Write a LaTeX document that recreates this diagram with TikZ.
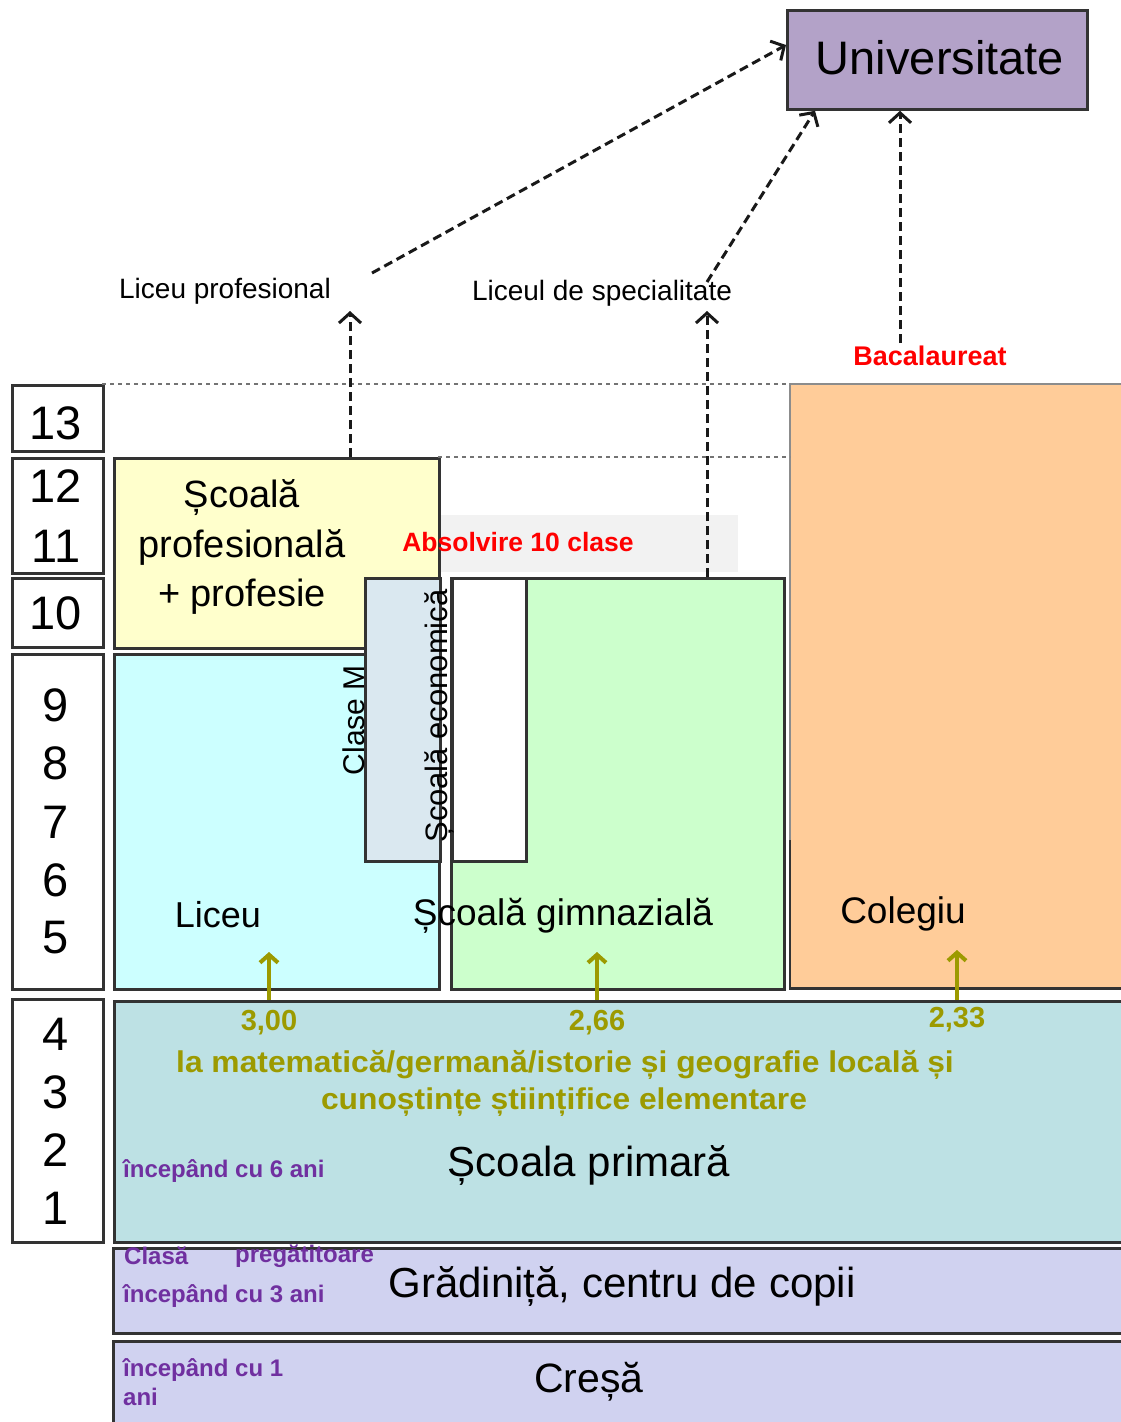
\documentclass[tikz,border=0pt]{standalone}
\usepackage{fontspec}
\usepackage{graphicx}
\setmainfont{Liberation Sans}
\usetikzlibrary{arrows.meta,calc}
\definecolor{univfill}{HTML}{B3A2C8}
\definecolor{yellowfill}{HTML}{FFFFCC}
\definecolor{cyanfill}{HTML}{CCFFFF}
\definecolor{greenfill}{HTML}{CCFFCC}
\definecolor{orangefill}{HTML}{FFCC99}
\definecolor{clasemfill}{HTML}{DAE8F0}
\definecolor{primfill}{HTML}{BDE1E4}
\definecolor{lavfill}{HTML}{D0D2F0}
\definecolor{bandfill}{HTML}{F2F2F2}
\definecolor{olivec}{HTML}{9C9A00}
\definecolor{purplec}{HTML}{7030A0}
\definecolor{redc}{HTML}{FF0000}
\definecolor{edgec}{HTML}{333333}
\newcommand{\fs}[1]{\fontsize{#1}{1.25\dimexpr#1pt\relax}\selectfont}
\begin{document}
\begin{tikzpicture}[x=1pt,y=-1pt,
  box/.style={draw=edgec, line width=2.8pt, inner sep=0pt, anchor=north west},
  numtxt/.style={font=\fs{47}, inner sep=0pt},
  bigtxt/.style={inner sep=0pt},
  guide/.style={draw=black!55, line width=1.5pt, dash pattern=on 4pt off 4pt},
  darr/.style={draw=black!90, line width=3pt, dash pattern=on 9pt off 5pt,
    -{Straight Barb[length=10pt,width=22pt]}},
  oarr/.style={draw=olivec, line width=4pt, -{Straight Barb[length=8pt,width=18pt]}},
  redlbl/.style={text=redc, font=\fs{27}\bfseries, inner sep=0pt},
  olivelbl/.style={text=olivec, font=\fs{29}\bfseries, inner sep=0pt},
  purplbl/.style={text=purplec, font=\fs{24}\bfseries, inner sep=0pt, anchor=west}
]
\useasboundingbox (0,0) rectangle (1121,1422);

% guide dashed lines
\coordinate (g13) at (102,384);
\coordinate (g12) at (438,457);

% grey band
\node[anchor=north west, fill=bandfill, minimum width=300pt, minimum height=57pt, inner sep=0pt] (band) at (438,515) {};

% number column
\node[box, fill=white, minimum width=91pt, minimum height=66pt] (n13) at (11,384) {};
\node[box, fill=white, minimum width=91pt, minimum height=115pt] (n1211) at (11,457) {};
\node[box, fill=white, minimum width=91pt, minimum height=69pt] (n10) at (11,577) {};
\node[box, fill=white, minimum width=91pt, minimum height=335pt] (n95) at (11,653) {};
\node[box, fill=white, minimum width=91pt, minimum height=243pt] (n41) at (11,998) {};

\foreach \t/\y in {13/423,12/486,11/546,10/613,9/705,8/763,7/822,6/880,5/938,4/1034,3/1092,2/1150,1/1208}
  \node[numtxt] (num\t) at (56,\y) {\t};

% main boxes
\node[box, fill=cyanfill, minimum width=325pt, minimum height=335pt] (liceu) at (113,653) {};
\node[box, fill=yellowfill, minimum width=325pt, minimum height=190pt] (prof) at (113,457) {};
\node[box, fill=greenfill, minimum width=333pt, minimum height=411pt] (gimn) at (450,577) {};
\node[anchor=north west, fill=orangefill, inner sep=0pt, minimum width=340pt, minimum height=604pt] (coleg) at (790,384) {};
\draw[edgec, line width=2.8pt] ($(coleg.south west)+(0,-148)$) -- (coleg.south west) -- (coleg.south east);
\draw[black!45, line width=1.2pt] ($(coleg.south west)+(0,-148)$) -- (coleg.north west) -- (coleg.north east);
\node[box, fill=clasemfill, minimum width=75pt, minimum height=283pt] (clasem) at (364,577) {};
\node[box, fill=white, minimum width=74pt, minimum height=283pt] (econ) at (451,577) {};

\draw[guide] (g13) -- (coleg.north west);
\draw[guide] (g12) -- (g12 -| coleg.west);

\node[box, fill=primfill, minimum width=1020pt, minimum height=241pt] (prim) at (113,1000) {};
\node[box, fill=lavfill, minimum width=1020pt, minimum height=85pt] (grad) at (112,1247) {};
\node[box, fill=lavfill, minimum width=1020pt, minimum height=90pt] (cresa) at (112,1340) {};

\node[box, fill=univfill, minimum width=300pt, minimum height=99pt] (univ) at (786,9) {};
\node[bigtxt, font=\fs{47}] (univtxt) at (940,58) {Universitate};

% texts in boxes
\node[bigtxt, font=\fontsize{38}{49.5}\selectfont, align=center] (proftxt) at (242,547) {Școală\\profesională\\+ profesie};
\node[bigtxt, font=\fs{36}] (liceutxt) at (218,915) {Liceu};
\node[bigtxt, font=\fs{37}] (gimntxt) at (563,916) {Școală gimnazială};
\node[bigtxt, font=\fs{37}] (colegtxt) at (903,914) {Colegiu};
\node[bigtxt, font=\fs{30}, rotate=90] (clasemtxt) at (354,720) {Clase M};
\node[bigtxt, font=\fs{31}, rotate=90] (econtxt) at (439,716) {Școală economică};
\node[bigtxt, font=\fs{42}] (primtxt) at (589,1165) {Școala primară};
\node[bigtxt, font=\fs{42}] (gradtxt) at (622,1286) {Grădiniță, centru de copii};
\node[bigtxt, font=\fs{41}] (cresatxt) at (589,1382) {Creșă};

% labels
\node[bigtxt, font=\fs{28}] (lprof) at (225,291) {Liceu profesional};
\node[bigtxt, font=\fs{28}] (lspec) at (602,293) {Liceul de specialitate};
\node[redlbl] (bac) at (930,356) {Bacalaureat};
\node[redlbl, font=\fs{26.5}\bfseries] (absolv) at (518,542) {Absolvire 10 clase};

% dashed arrows
\coordinate (a1s) at (372,273);
\coordinate (a2s) at (707,282);
\coordinate (a3s) at (900,343);
\coordinate (a4s) at (350,457);
\coordinate (a4e) at (350,311);
\coordinate (a5s) at (707,577);
\coordinate (a5e) at (707,311);
\draw[darr] (a1s) -- ($(univ.north west)+(0,36)$);
\draw[darr] (a2s) -- ($(univ.south west)+(29,0)$);
\draw[darr] (a3s) -- (a3s |- univ.south);
\draw[darr] (a4s) -- (a4e);
\draw[darr] (a5s) -- (a5e);

% olive arrows and texts
\coordinate (o1) at (269,952);
\coordinate (o2) at (597,952);
\coordinate (o3) at (957,950);
\draw[oarr] (o1 |- prim.north) -- (o1);
\draw[oarr] (o2 |- prim.north) -- (o2);
\draw[oarr] (o3 |- prim.north) -- (o3);
\node[olivelbl] (v1) at (269,1023) {3,00};
\node[olivelbl] (v2) at (597,1023) {2,66};
\node[olivelbl] (v3) at (957,1020) {2,33};
\node[olivelbl, font=\fs{30}\bfseries] (subj1) at (565,1065) {\scalebox{1.06}[1]{la matematică/germană/istorie și geografie locală și}};
\node[olivelbl, font=\fs{30}\bfseries] (subj2) at (564,1102) {\scalebox{1.06}[1]{cunoștințe științifice elementare}};

% purple notes
\node[purplbl] (p6) at (123,1171) {începând cu 6 ani};
\node[purplbl] (pclasa) at (124,1256) {Clasă};
\node[purplbl] (ppreg) at (235,1256) {pregătitoare};
\node[purplbl] (p3) at (123,1296) {începând cu 3 ani};
\node[purplbl] (p1) at (123,1370) {începând cu 1};
\node[purplbl] (pani) at (123,1397) {ani};
\end{tikzpicture}
\end{document}
